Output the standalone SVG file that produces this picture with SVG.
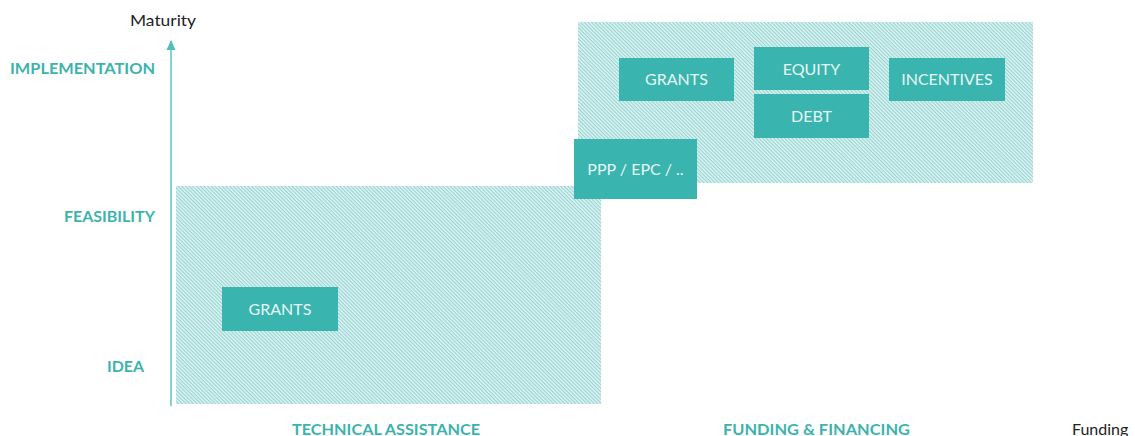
<svg xmlns="http://www.w3.org/2000/svg" width="1135" height="436" viewBox="0 0 1135 436">
<style>
.box{fill:#3ab4ae}
.bt{font-family:Lato,"Open Sans","Liberation Sans",sans-serif;font-size:16px;fill:#e6f7f5;text-anchor:middle}
.ax{font-family:Lato,"Open Sans","Liberation Sans",sans-serif;font-size:16px;font-weight:bold;fill:#3db3ad}
.bk{font-family:Lato,"Open Sans","Liberation Sans",sans-serif;font-size:16px;fill:#222}
.hatch{fill:url(#hatch)}
</style>
<defs>
<pattern id="hatch" width="2.6" height="2.6" patternUnits="userSpaceOnUse" patternTransform="rotate(45)">
<rect width="2.6" height="2.6" fill="#e0f3f3"/>
<rect width="2.6" height="1.1" fill="#92d4d1"/>
</pattern>
</defs>
<rect width="1135" height="436" fill="#fff"/>
<g id="regions">
<rect id="technical-region" class="hatch" x="176" y="186" width="425" height="218"/>
<rect id="funding-region" class="hatch" x="578" y="22" width="455" height="161"/>
</g>
<g id="connectors">
<path d="M171,406 V41" stroke="#5cc4be" stroke-width="1.5" fill="none"/>
<path d="M166.5,50 L171,40 L175.5,50 z" fill="#4fbfb8"/>
</g>
<g id="axis-labels">
<text class="bk" x="163" y="26" text-anchor="middle" textLength="66" lengthAdjust="spacingAndGlyphs">Maturity</text>
<text class="ax" x="10" y="74" textLength="145" lengthAdjust="spacingAndGlyphs">IMPLEMENTATION</text>
<text class="ax" x="64" y="222" textLength="91" lengthAdjust="spacingAndGlyphs">FEASIBILITY</text>
<text class="ax" x="107" y="372" textLength="37" lengthAdjust="spacingAndGlyphs">IDEA</text>
<text class="ax" x="292" y="435" textLength="188" lengthAdjust="spacingAndGlyphs">TECHNICAL ASSISTANCE</text>
<text class="ax" x="723" y="435" textLength="187" lengthAdjust="spacingAndGlyphs">FUNDING &amp; FINANCING</text>
<text class="bk" x="1072" y="435">Funding</text>
</g>
<g id="grants-ta">
<rect class="box" x="222" y="287" width="116" height="44"/>
<text class="bt" x="280" y="315">GRANTS</text>
</g>
<g id="ppp">
<rect class="box" x="574" y="139" width="123" height="60"/>
<text class="bt" x="635.5" y="175">PPP / EPC / ..</text>
</g>
<g id="grants-ff">
<rect class="box" x="619" y="58" width="115" height="43"/>
<text class="bt" x="676.5" y="85">GRANTS</text>
</g>
<g id="equity">
<rect class="box" x="754" y="47" width="115" height="43"/>
<text class="bt" x="811.5" y="75">EQUITY</text>
</g>
<g id="debt">
<rect class="box" x="754" y="94" width="115" height="44"/>
<text class="bt" x="811.5" y="122">DEBT</text>
</g>
<g id="incentives">
<rect class="box" x="889" y="58" width="116" height="43"/>
<text class="bt" x="947" y="85">INCENTIVES</text>
</g>
</svg>
